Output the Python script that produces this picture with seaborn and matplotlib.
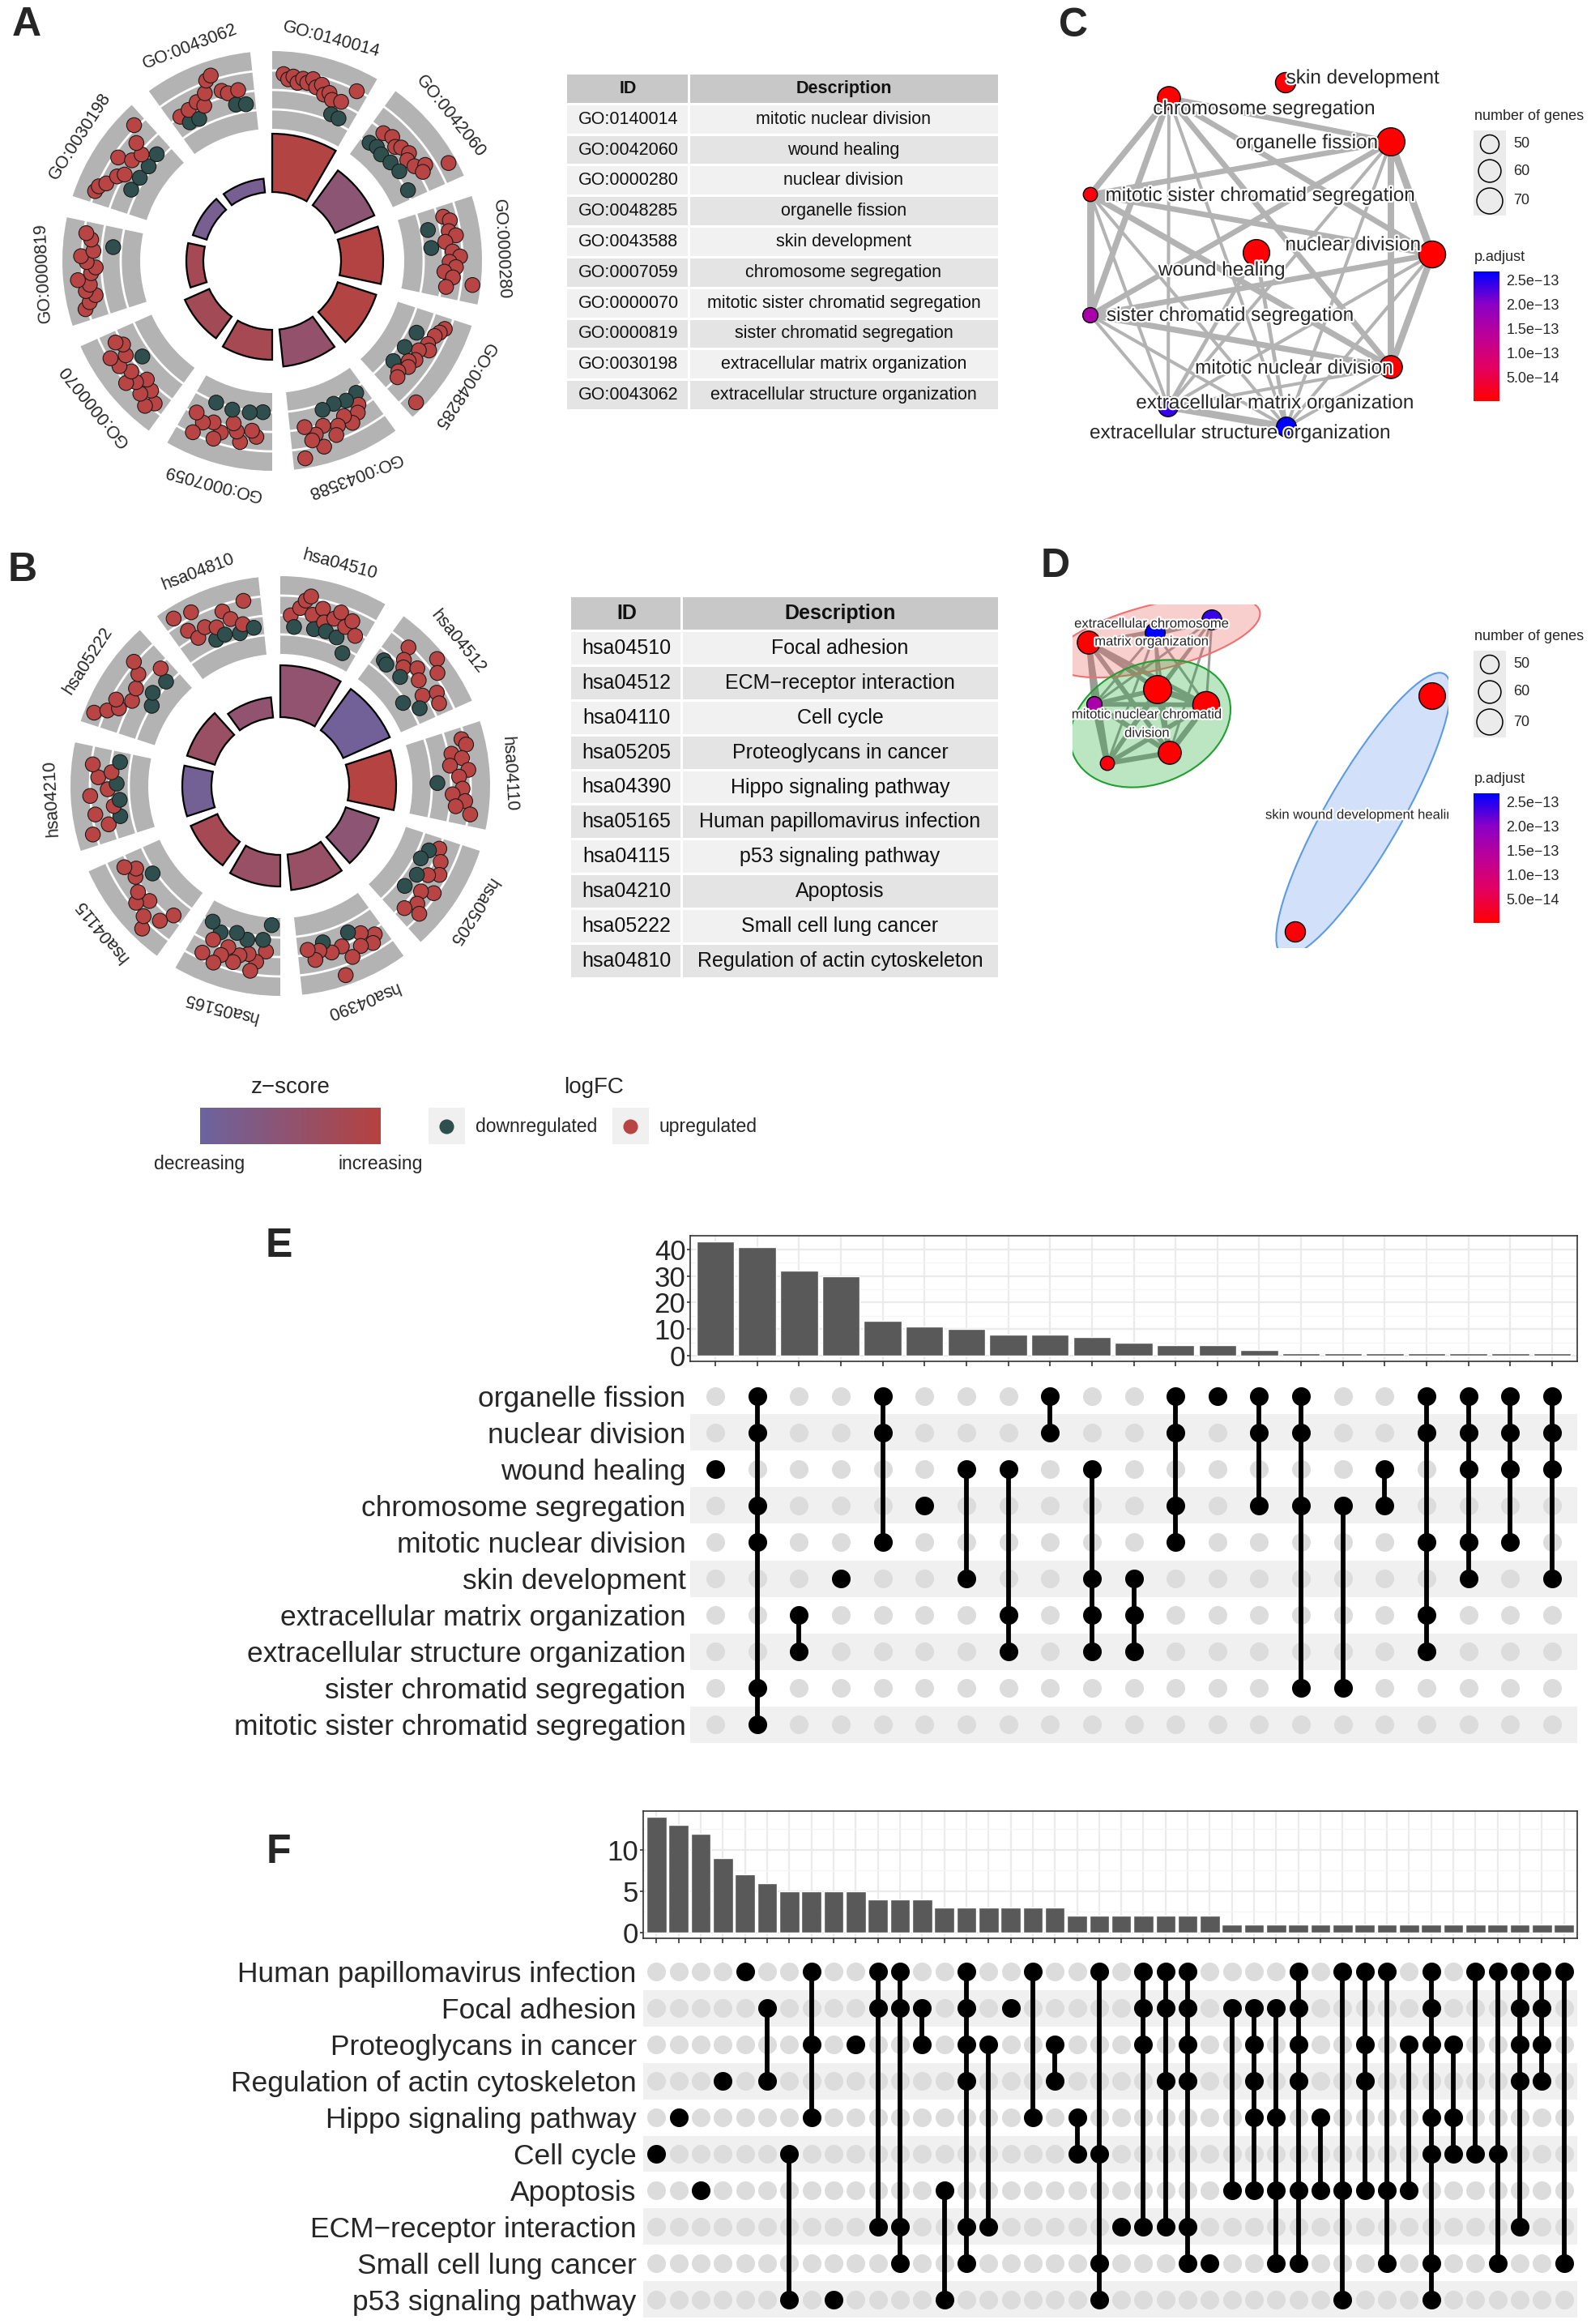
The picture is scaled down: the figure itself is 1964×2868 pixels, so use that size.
import numpy as np
import pandas as pd
import matplotlib
matplotlib.use("Agg")
import matplotlib.pyplot as plt
import matplotlib.patheffects as pe
import seaborn as sns
from itertools import combinations
from matplotlib.cm import ScalarMappable
from matplotlib.colors import LinearSegmentedColormap, Normalize
from matplotlib.patches import Rectangle, Ellipse
from matplotlib.ticker import FixedLocator

# ---------------- GO circle / table (A) ----------------
go_ids = ["GO:0140014", "GO:0042060", "GO:0000280", "GO:0048285", "GO:0043588",
          "GO:0007059", "GO:0000070", "GO:0000819", "GO:0030198", "GO:0043062"]
go_desc = ["mitotic nuclear division", "wound healing", "nuclear division", "organelle fission",
           "skin development", "chromosome segregation", "mitotic sister chromatid segregation",
           "sister chromatid segregation", "extracellular matrix organization",
           "extracellular structure organization"]
go_bar = [72, 53, 52, 50, 46, 37, 33, 21, 18, 17]
go_z = [2.7, -0.3, 2.8, 2.7, 0.3, 1.8, 1.5, 1.7, -2.1, -2.1]
go_lfc = [
    [2.8, 2.2, 2.6, 1.9, 2.5, 2.1, 2.7, 1.8, 2.3, 1.2, 1.6, 0.9, -0.8, 1.1, -0.9, 3.1],
    [-1.4, 0.6, -1.2, 1.0, -1.5, 0.4, 0.9, -1.3, 1.2, 0.5, -1.1, 0.8, 2.0, 1.3, 4.6, -1.4],
    [1.5, 2.2, -0.7, 1.8, 2.6, 1.2, -0.6, 2.0, 2.9, 1.6, 2.4, 1.0, 2.1, 4.6, 1.4],
    [2.6, 2.2, 1.8, -0.4, 1.5, 2.0, 0.9, -0.8, 1.2, 0.6, 1.0, -0.9, 0.4, 0.8, 4.6],
    [-1.0, 0.4, 1.2, -0.8, 2.0, 0.8, -1.1, 1.6, 2.6, -0.9, 1.0, 3.5, 1.8, 2.4, 0.6, 4.4],
    [-1.6, 1.5, 0.8, -1.4, 2.4, 1.2, 0.3, -1.3, 1.8, 2.8, 0.9, -1.5, 1.4, 3.0, 0.6],
    [2.5, 3.5, 1.6, 2.8, 1.0, 2.2, 3.2, 1.8, -0.4, 2.6, 1.2, 3.0, 0.8, 1.5],
    [3.5, 2.8, 1.9, 3.0, 2.4, 3.8, 2.1, 1.5, 2.6, 3.3, 1.8, -0.6, 2.2, 2.9],
    [3.2, 3.0, 2.3, -0.8, 1.5, 0.8, -1.0, 2.6, 1.0, -1.1, 0.5, 1.9, -0.9, 3.6],
    [0.8, -0.4, 1.0, -0.6, 1.4, 0.6, 2.0, 3.4, 3.8, 1.6, 1.1, -0.5, 1.2, -0.7],
]

# ---------------- KEGG circle / table (B) ----------------
kegg_ids = ["hsa04510", "hsa04512", "hsa04110", "hsa05205", "hsa04390",
            "hsa05165", "hsa04115", "hsa04210", "hsa05222", "hsa04810"]
kegg_desc = ["Focal adhesion", "ECM\u2212receptor interaction", "Cell cycle", "Proteoglycans in cancer",
             "Hippo signaling pathway", "Human papillomavirus infection", "p53 signaling pathway",
             "Apoptosis", "Small cell lung cancer", "Regulation of actin cytoskeleton"]
kegg_bar = [64, 63, 58, 43, 44, 39, 36, 36, 36, 25]
kegg_z = [0.0, -2.5, 2.9, -0.3, 0.6, 0.6, 1.7, -2.4, 0.7, 0.0]
kegg_lfc = [
    [0.8, -0.6, 1.8, 2.8, 3.4, 1.2, -0.5, 2.2, 0.6, -0.4, 1.4, 2.4, -0.7, 0.9, 1.9, -2.2, 0.4],
    [-0.2, -0.4, 3.0, 1.5, 0.8, -0.3, 2.0, 4.6, 1.2, 3.6, -2.0, 0.5, 2.2, -0.6, 1.8],
    [2.8, 3.2, 1.2, 2.4, 0.8, 3.0, 1.8, -0.9, 2.2, 1.0, 2.6, 1.5, 3.4],
    [0.8, -0.3, 1.6, -0.8, 2.2, 1.0, -0.2, 2.8, 1.4, -0.6, 2.0, 3.0, 1.2],
    [1.4, 2.2, 0.4, 1.8, -0.4, 2.6, 0.9, 4.4, 1.2, -0.3, 0.6, 1.6, 0.2],
    [-3.2, 0.2, -1.2, 1.6, 2.8, 0.8, -0.9, 1.2, 2.2, -1.4, 0.6, 1.8, 3.0, -0.8, 0.4, 2.4, -1.6],
    [0.4, 2.0, 4.2, 3.0, 1.2, 2.6, 1.6, -1.2, 0.8, 0.2, 1.4],
    [3.6, 1.4, -0.2, 2.8, 0.4, -0.4, 3.2, 1.0, -0.1, 2.2, 0.6, 3.0, -0.3],
    [4.4, 3.0, 1.8, 2.6, 0.8, -1.6, 1.2, -0.8, 2.0, 3.4, -1.2, 0.4],
    [4.2, 2.0, 0.6, 3.8, 1.4, -0.6, 0.8, -0.4, 2.4, 1.2, -0.8, 0.2, 3.0, -0.5],
]

# ---------------- GO upset (E) ----------------
go_sets = ["organelle fission", "nuclear division", "wound healing", "chromosome segregation",
           "mitotic nuclear division", "skin development", "extracellular matrix organization",
           "extracellular structure organization", "sister chromatid segregation",
           "mitotic sister chromatid segregation"]
go_inter_size = [43, 41, 32, 30, 13, 11, 10, 8, 8, 7, 5, 4, 4, 2, 1, 1, 1, 1, 1, 1, 1]
go_inter_sets = [[2], [0, 1, 3, 4, 8, 9], [6, 7], [5], [0, 1, 4], [3], [2, 5], [2, 6, 7], [0, 1],
                 [2, 5, 6, 7], [5, 6, 7], [0, 1, 3, 4], [0], [0, 1, 3], [0, 1, 3, 8], [3, 8], [2, 3],
                 [0, 1, 4, 6, 7], [0, 1, 2, 4, 5], [0, 1, 2, 4], [0, 1, 2, 5]]

# ---------------- KEGG upset (F) ----------------
kegg_sets = ["Human papillomavirus infection", "Focal adhesion", "Proteoglycans in cancer",
             "Regulation of actin cytoskeleton", "Hippo signaling pathway", "Cell cycle",
             "Apoptosis", "ECM\u2212receptor interaction", "Small cell lung cancer",
             "p53 signaling pathway"]
kegg_inter_size = [14, 13, 12, 9, 7, 6, 5, 5, 5, 5, 4, 4, 4, 3, 3, 3, 3, 3, 3,
                   2, 2, 2, 2, 2, 2, 2, 1, 1, 1, 1, 1, 1, 1, 1, 1, 1, 1, 1, 1, 1, 1, 1]
kegg_inter_sets = [[5], [4], [6], [3], [0], [1, 3], [5, 9], [0, 2, 4], [9], [2], [0, 1, 7],
                   [0, 1, 7, 8], [1, 2], [6, 9], [0, 1, 2, 3, 7, 8], [2, 7], [1], [0, 4], [2, 3],
                   [4, 5], [0, 5, 8, 9], [7], [0, 1, 2, 7], [0, 1, 3, 7], [0, 1, 2, 3, 7, 8], [8],
                   [1, 6], [1, 2, 3, 4, 6], [1, 4, 6, 8], [0, 1, 2, 3, 6, 8], [4, 6], [0, 6, 9],
                   [0, 2, 3, 6], [0, 6, 8], [2, 6], [0, 1, 2, 4, 5, 8, 9], [2, 4, 5], [0, 5],
                   [0, 5, 8], [0, 1, 2, 3, 7], [0, 1, 2, 3], [0, 8]]

# ---------------- enrichment map (C, D), same order as go_sets ----------------
go_padj = [1e-15, 1e-15, 3e-15, 2e-15, 1e-15, 6e-15, 2.4e-13, 2.67e-13, 1.6e-13, 1e-14]
# network layouts (pixel positions of nodes / labels)
c_node_xy = [(1717, 175), (1768, 314), (1551, 312), (1443, 121), (1717, 453),
             (1587, 102), (1442, 502), (1588, 527), (1346, 389), (1346, 240)]
c_label_xy = [(1613, 177), (1670, 303), (1508, 334), (1560, 135), (1597, 455),
              (1682, 97), (1573, 498), (1530, 535), (1518, 390), (1555, 242)]
d_node_xy = [(1429, 851), (1489, 870), (1768, 859), (1344, 793), (1444, 929),
             (1599, 1150), (1496, 765), (1426, 781), (1351, 869), (1367, 942)]

sns.set_theme(style="white")
plt.rcParams["font.family"] = ["Liberation Sans", "DejaVu Sans"]

W, H = 1965, 2868
fig = plt.figure(figsize=(W / 100, H / 100), dpi=100)


def box(x0, y0, x1, y1):
    return [x0 / W, 1 - y1 / H, (x1 - x0) / W, (y1 - y0) / H]


ov = fig.add_axes([0, 0, 1, 1])
ov.axis("off")

UP, DOWN = "#B84444", "#2F4F4F"
zcmap = LinearSegmentedColormap.from_list("zs", ["#6C64A0", "#B5423F"])
znorm = Normalize(-3, 3)
pcmap = LinearSegmentedColormap.from_list("padj", ["#FF0000", "#E4005E", "#BD0096", "#8A00C6", "#0000FF"])
pnorm = Normalize(0, 2.67e-13)
halo = [pe.withStroke(linewidth=3, foreground="white")]


def circle(cx, cy, ids, bar, z, lfc):
    ax = fig.add_axes(box(cx - 300, cy - 300, cx + 300, cy + 300), projection="polar")
    ax.set_theta_zero_location("N")
    ax.set_theta_direction(-1)
    n = len(ids)
    span = np.deg2rad(30)
    mids = np.deg2rad(np.arange(n) * 360 / n) + span / 2
    ax.bar(mids, 96, width=span, bottom=163, color="#B3B3B3", edgecolor="none", zorder=1)
    for m in mids:
        th = np.linspace(m - span / 2, m + span / 2, 60)
        for r in (187, 211, 235):
            ax.plot(th, np.full_like(th, r), color="white", lw=2, zorder=2)
    ax.bar(mids, bar, width=span, bottom=85, color=zcmap(znorm(np.array(z))),
           edgecolor="black", linewidth=1.6, zorder=2)
    pad = np.deg2rad(3.5)
    for m, vals in zip(mids, lfc):
        vals = np.array(vals)
        th = np.linspace(m - span / 2 + pad, m + span / 2 - pad, len(vals))
        r = np.clip(203 + 10 * vals, 172, 250)
        ax.scatter(th, r, s=175, c=[UP if v > 0 else DOWN for v in vals],
                   edgecolors="#1A1A1A", linewidths=0.8, zorder=3)
    for m, lab in zip(mids, ids):
        ax.text(m, 283, lab, rotation=-np.rad2deg(m), rotation_mode="anchor",
                ha="center", va="center", fontsize=15.5)
    ax.set_ylim(0, 300)
    ax.axis("off")


def table(x0, xs, x1, y0, y1, ids, desc, fs):
    n = len(ids) + 1
    rh = (y1 - y0) / n
    gap = 3
    for r in range(n):
        top = y0 + r * rh
        fc = "#C8C8C8" if r == 0 else ("#F1F1F1" if r % 2 else "#E4E4E4")
        ov.add_patch(Rectangle((x0, top), xs - x0 - gap / 2, rh - gap, fc=fc, ec="none"))
        ov.add_patch(Rectangle((xs + gap / 2, top), x1 - xs - gap / 2, rh - gap, fc=fc, ec="none"))
        yc = top + (rh - gap) / 2
        if r == 0:
            t1, t2, fw = "ID", "Description", "bold"
        else:
            t1, t2, fw = ids[r - 1], desc[r - 1], "normal"
        ov.text((x0 + xs) / 2, yc, t1, ha="center", va="center", fontsize=fs, fontweight=fw, color="#111111")
        ov.text((xs + x1) / 2, yc, t2, ha="center", va="center", fontsize=fs, fontweight=fw, color="#111111")


# set sizes and similarities from the upset intersections
go_counts = np.array([sum(sz for sz, m in zip(go_inter_size, go_inter_sets) if i in m)
                      for i in range(len(go_sets))])


def jaccard(i, j):
    sh = sum(sz for sz, m in zip(go_inter_size, go_inter_sets) if i in m and j in m)
    return sh / (go_counts[i] + go_counts[j] - sh)


def node_s(cnt):
    return 2.07 * 6.2 * (np.asarray(cnt, dtype=float) - 28.7)


def size_legend(ytitle, ys, ybox):
    ov.text(1820, ytitle, "number of genes", ha="left", va="center", fontsize=13)
    ov.add_patch(Rectangle((1819, ybox[0]), 40, ybox[1] - ybox[0], fc="#EBEBEB", ec="none"))
    ov.scatter([1839] * 3, ys, s=node_s([50, 60, 70]), facecolors="none", edgecolors="black", linewidths=1.1)
    for y, lab in zip(ys, ["50", "60", "70"]):
        ov.text(1868, y, lab, ha="left", va="center", fontsize=13)


def padj_legend(ytitle, y0, y1):
    ov.text(1820, ytitle, "p.adjust", ha="left", va="center", fontsize=13)
    cax = fig.add_axes(box(1819, y0, 1851, y1))
    cb = fig.colorbar(ScalarMappable(norm=pnorm, cmap=pcmap), cax=cax)
    tv = [5e-14, 1e-13, 1.5e-13, 2e-13, 2.5e-13]
    cb.set_ticks(tv)
    cb.set_ticklabels([f"{v:.1e}".replace("-", "\u2212") for v in tv])
    cb.outline.set_visible(False)
    cax.tick_params(direction="in", color="white", length=5, width=1, labelsize=13,
                    left=True, right=True, labelleft=False, labelright=True, pad=6)


# ---------------- A / B circles and tables ----------------
circle(336, 322, go_ids, go_bar, go_z, go_lfc)
circle(346, 970, kegg_ids, kegg_bar, kegg_z, kegg_lfc)
table(700, 851, 1232, 92, 508, go_ids, go_desc, 15.5)
table(705, 842, 1232, 737, 1209, kegg_ids, kegg_desc, 18)

# ---------------- C: enrichment map ----------------
axc = fig.add_axes(box(1290, 60, 1810, 560))
axc.set_xlim(1290, 1810)
axc.set_ylim(560, 60)
axc.axis("off")
cxy = np.array(c_node_xy, dtype=float)
core = [0, 1, 3, 4, 6, 7, 8, 9]
for i, j in list(combinations(core, 2)) + [(2, 6), (2, 7)]:
    axc.plot(cxy[[i, j], 0], cxy[[i, j], 1], color="#B3B3B3",
             lw=(4 + 5 * jaccard(i, j)) / 1.389, solid_capstyle="butt", zorder=1)
axc.scatter(cxy[:, 0], cxy[:, 1], s=node_s(go_counts), c=go_padj, cmap=pcmap, norm=pnorm,
            edgecolors="black", linewidths=1, zorder=2)
for lab, (x, y) in zip(go_sets, c_label_xy):
    axc.text(x, y, lab, fontsize=17.5, ha="center", va="center", zorder=3, path_effects=halo)
size_legend(144, [178, 211, 248], (161, 266))
padj_legend(317, 335, 495)

# ---------------- D: clustered enrichment map ----------------
axd = fig.add_axes(box(1324, 746, 1788, 1170))
axd.set_xlim(1324, 1788)
axd.set_ylim(1170, 746)
axd.axis("off")
dxy = np.array(d_node_xy, dtype=float)
for i, j in combinations(core, 2):
    axd.plot(dxy[[i, j], 0], dxy[[i, j], 1], color="#9A9A9A",
             lw=(3 + 5 * jaccard(i, j)) / 1.389, solid_capstyle="butt", zorder=1)
for (ex, ey), w, h, ang, fill, edge in [((1428, 786), 262, 80, -14, "#EB625C", "#F07070"),
                                         ((1420, 893), 205, 148, -22, "#22AA33", "#1FA030"),
                                         ((1683, 1005), 400, 92, -60, "#6C9EEE", "#5B9BE6")]:
    axd.add_patch(Ellipse((ex, ey), w, h, angle=ang, fc=fill, alpha=0.3, ec="none", zorder=2))
    axd.add_patch(Ellipse((ex, ey), w, h, angle=ang, fc="none", ec=edge, lw=1.5, zorder=2))
axd.scatter(dxy[:, 0], dxy[:, 1], s=node_s(go_counts), c=go_padj, cmap=pcmap, norm=pnorm,
            edgecolors="black", linewidths=1, zorder=3)
for txt, (x, y) in [("extracellular chromosome", (1422, 770)), ("matrix organization", (1422, 792)),
                    ("mitotic nuclear chromatid", (1416, 882)), ("division", (1416, 905))]:
    axd.text(x, y, txt, fontsize=12, ha="center", va="center", zorder=4, path_effects=halo)
axd.text(1562, 1006, "skin wound development healing", fontsize=12, ha="left", va="center",
         zorder=4, clip_on=True, path_effects=halo)
size_legend(786, [820, 854, 891], (803, 910))
padj_legend(962, 979, 1139)

# ---------------- z-score / logFC legend ----------------
ov.imshow(np.linspace(0, 1, 256)[None, :], cmap=zcmap, extent=(247, 470, 1412, 1367), aspect="auto")
ov.text(359, 1342, "z\u2212score", ha="center", va="center", fontsize=20)
ov.text(246, 1436, "decreasing", ha="center", va="center", fontsize=16.5)
ov.text(470, 1436, "increasing", ha="center", va="center", fontsize=16.5)
ov.text(733, 1342, "logFC", ha="center", va="center", fontsize=20)
for bx, col, lab in [(529, DOWN, "downregulated"), (756, UP, "upregulated")]:
    ov.add_patch(Rectangle((bx, 1367), 45, 45, fc="#F0F0F0", ec="none"))
    ov.scatter([bx + 22.5], [1390], s=170, color=col, linewidths=0)
    ov.text(bx + 58, 1390, lab, ha="left", va="center", fontsize=16.5)


# ---------------- E / F: upset plots ----------------
def upset(x0, x1, by, my, sizes, members, names, yticks, minor, ylim, pad):
    n = len(sizes)
    axb = fig.add_axes(box(x0, by[0], x1, by[1]))
    df = pd.DataFrame({"inter": [str(i) for i in range(n)], "size": sizes})
    sns.barplot(data=df, x="inter", y="size", order=df["inter"], color="#595959",
                saturation=1, width=0.9, ax=axb)
    axb.set_xlim(-0.6, n - 0.4)
    axb.set_ylim(*ylim)
    axb.set_yticks(yticks)
    axb.yaxis.set_minor_locator(FixedLocator(minor))
    axb.set_xticks(np.arange(n))
    axb.set_xticklabels([])
    axb.set_axisbelow(True)
    axb.grid(True, which="major", color="#EBEBEB", lw=1.6)
    axb.grid(True, which="minor", axis="y", color="#F5F5F5", lw=0.9)
    axb.set_xlabel("")
    axb.set_ylabel("")
    for s in axb.spines.values():
        s.set_visible(True)
        s.set_color("#333333")
        s.set_linewidth(1.2)
    axb.tick_params(axis="y", which="major", labelsize=25, length=3, width=1.2, pad=1,
                    color="#333333", left=True)
    axb.tick_params(axis="y", which="minor", length=0)
    axb.tick_params(axis="x", length=4.5, width=1.2, bottom=True, color="#333333")

    axm = fig.add_axes(box(x0, my[0], x1, my[1]))
    rows = len(names)
    for r in range(1, rows, 2):
        axm.axhspan(r - 0.5, r + 0.5, color="#F0F0F0", lw=0)
    cells = pd.DataFrame([(c, r, r in members[c]) for c in range(n) for r in range(rows)],
                         columns=["x", "y", "hit"])
    sns.scatterplot(data=cells[~cells["hit"]], x="x", y="y", color="#DCDCDC", s=275,
                    linewidth=0, ax=axm, legend=False)
    for c, m in enumerate(members):
        if len(m) > 1:
            axm.vlines(c, min(m), max(m), color="black", lw=4.2)
    sns.scatterplot(data=cells[cells["hit"]], x="x", y="y", color="black", s=275,
                    linewidth=0, ax=axm, legend=False, zorder=3)
    axm.set_xlim(-0.6, n - 0.4)
    axm.set_ylim(rows - 0.5, -0.5)
    axm.set_xticks([])
    axm.set_yticks(range(rows))
    axm.set_yticklabels(names, fontsize=25.5)
    axm.tick_params(axis="y", length=0, pad=pad, left=False)
    axm.set_xlabel("")
    axm.set_ylabel("")
    for s in axm.spines.values():
        s.set_visible(False)


upset(852, 1947, (1525, 1680), (1700, 2151), go_inter_size, go_inter_sets, go_sets,
      [0, 10, 20, 30, 40], [5, 15, 25, 35], (-2.15, 45.15), 4)
upset(794, 1947, (2235, 2392), (2411, 2860), kegg_inter_size, kegg_inter_sets, kegg_sets,
      [0, 5, 10], [2.5, 7.5, 12.5], (-0.7, 14.7), 6)

# ---------------- panel letters ----------------
for lab, (x, y) in zip("ABCDEF", [(33, 31), (28, 704), (1325, 32), (1303, 699), (344, 1538), (344, 2286)]):
    ov.text(x, y, lab, ha="center", va="center", fontsize=36, fontweight="bold")

ov.set_xlim(0, W)
ov.set_ylim(H, 0)
fig.savefig("out.png", dpi=100)
